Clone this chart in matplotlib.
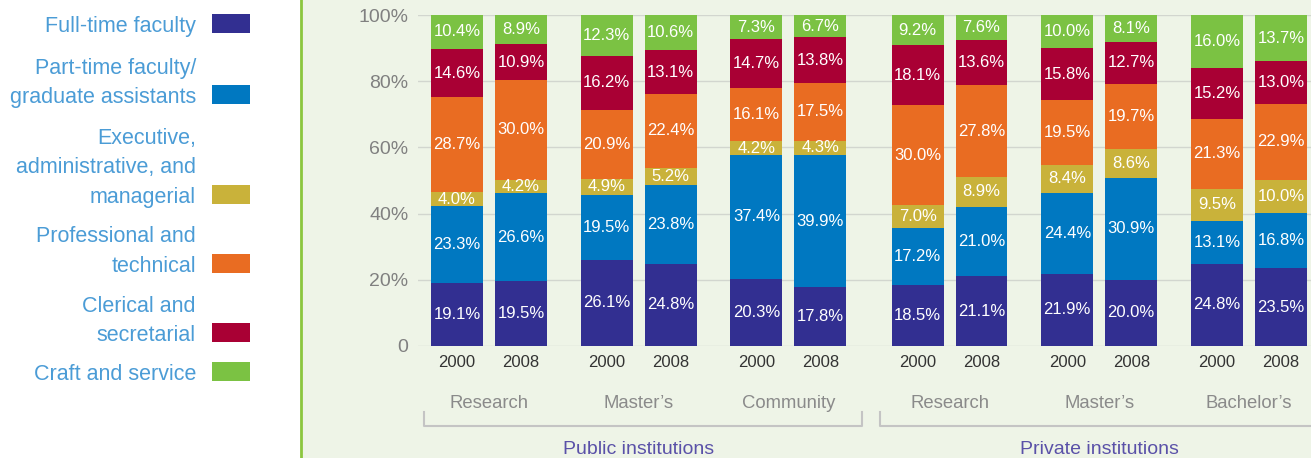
import numpy as np
import matplotlib.pyplot as plt
from matplotlib.patches import Rectangle
from matplotlib.lines import Line2D

plt.rcParams['font.family'] = ['Liberation Sans', 'DejaVu Sans']

# staff categories, bottom of the stack first
categories = ['Full-time faculty', 'Part-time faculty/\ngraduate assistants',
              'Executive,\nadministrative, and\nmanagerial', 'Professional and\ntechnical',
              'Clerical and\nsecretarial', 'Craft and service']
colors = ['#322f91', '#0078c1', '#c9b23a', '#e96c22', '#a90034', '#7bc243']

years = ['2000', '2008']
groups = ['Research', "Master’s", 'Community', 'Research', "Master’s", "Bachelor’s"]
sectors = ['Public institutions', 'Private institutions']

# one row per bar (group x year), columns follow `categories`
shares = np.array([
    [19.1, 23.3, 4.0, 28.7, 14.6, 10.4],
    [19.5, 26.6, 4.2, 30.0, 10.9, 8.9],
    [26.1, 19.5, 4.9, 20.9, 16.2, 12.3],
    [24.8, 23.8, 5.2, 22.4, 13.1, 10.6],
    [20.3, 37.4, 4.2, 16.1, 14.7, 7.3],
    [17.8, 39.9, 4.3, 17.5, 13.8, 6.7],
    [18.5, 17.2, 7.0, 30.0, 18.1, 9.2],
    [21.1, 21.0, 8.9, 27.8, 13.6, 7.6],
    [21.9, 24.4, 8.4, 19.5, 15.8, 10.0],
    [20.0, 30.9, 8.6, 19.7, 12.7, 8.1],
    [24.8, 13.1, 9.5, 21.3, 15.2, 16.0],
    [23.5, 16.8, 10.0, 22.9, 13.0, 13.7],
])

W, H = 1311, 458
fig = plt.figure(figsize=(W / 100, H / 100), dpi=100)


def fx(x):
    return x / W


def fy(y):
    return 1 - y / H


# pale panel behind the chart, white strip for the legend
fig.patches.append(Rectangle((fx(300), 0), 1 - fx(300), 1, transform=fig.transFigure,
                             facecolor='#eef4e7', edgecolor='none', zorder=-5))
fig.add_artist(Line2D([fx(301), fx(301)], [0, 1], transform=fig.transFigure,
                      color='#8cc63f', lw=2, zorder=-4))

ax = fig.add_axes([fx(418), fy(346), 1 - fx(418), (346 - 15) / H])
ax.set_facecolor('none')
ax.set_zorder(2)

# bar positions: pairs of years, a little extra room between the two sectors
step, gap = 2.34, 0.18
starts = np.array([i * step + (gap if i >= 3 else 0) for i in range(len(groups))])
xs = np.ravel(np.column_stack([starts, starts + 1]))
bw = 0.81

bottom = np.zeros(len(xs))
for j, (cat, col) in enumerate(zip(categories, colors)):
    vals = shares[:, j]
    bars = ax.bar(xs, vals, bw, bottom=bottom, color=col, zorder=2)
    for bar, x, b, v in zip(bars, xs, bottom, vals):
        t = ax.text(x, b + v / 2, f'{v:.1f}%', ha='center', va='center',
                    color='white', fontsize=12, zorder=3)
        t.set_clip_path(bar)
    bottom += vals

ax.set_ylim(0, 100)
ax.set_xlim(xs[0] - 0.61, xs[-1] + 0.47)
ax.set_yticks(range(0, 101, 20))
ax.set_yticklabels(['0'] + [f'{v}%' for v in range(20, 101, 20)])
ax.yaxis.grid(True, color='#d2d6cf', lw=1, zorder=0)
ax.set_axisbelow(True)
ax.tick_params(axis='y', length=0, pad=7, labelsize=14, labelcolor='#808080')
ax.set_xticks([])
for s in ax.spines.values():
    s.set_visible(False)

tr = ax.get_xaxis_transform()
for x, yr in zip(xs, years * len(groups)):
    ax.text(x, -0.05, yr, transform=tr, ha='center', va='center',
            fontsize=12, color='#333333', clip_on=False)
for s, g in zip(starts, groups):
    ax.text(s + 0.5, -0.175, g, transform=tr, ha='center', va='center',
            fontsize=13.3, color='#8a8a8a', clip_on=False)

# sector brackets under the group names
y0, y1 = -0.199, -0.242
spans = [(starts[0] - 0.52, starts[2] + 1.65), (starts[3] - 0.58, ax.get_xlim()[1] + 0.1)]
for (a, b), name in zip(spans, sectors):
    ax.plot([a, a, b, b], [y0, y1, y1, y0], transform=tr, color='#c4c4c4',
            lw=1.5, clip_on=False)
for i, name in enumerate(sectors):
    mid = (starts[3 * i] + starts[3 * i + 2] + 1) / 2
    ax.text(mid, -0.314, name, transform=tr, ha='center', va='center',
            fontsize=14, color='#5a51a8', clip_on=False)

# legend on the left: text right-aligned, swatch after the last line
sw_tops = [14, 85, 185, 254, 323, 362]
for cat, col, top in zip(categories, colors, sw_tops):
    fig.add_artist(Rectangle((fx(212), fy(top + 19)), fx(38), 19 / H,
                             transform=fig.transFigure, facecolor=col, edgecolor='none'))
    lines = cat.split('\n')
    base = top + 18
    for k, line in enumerate(reversed(lines)):
        fig.text(fx(196), fy(base - 29.5 * k), line, ha='right', va='baseline',
                 fontsize=15.5, color='#4b9cd6')

fig.savefig('out.png', dpi=100)
